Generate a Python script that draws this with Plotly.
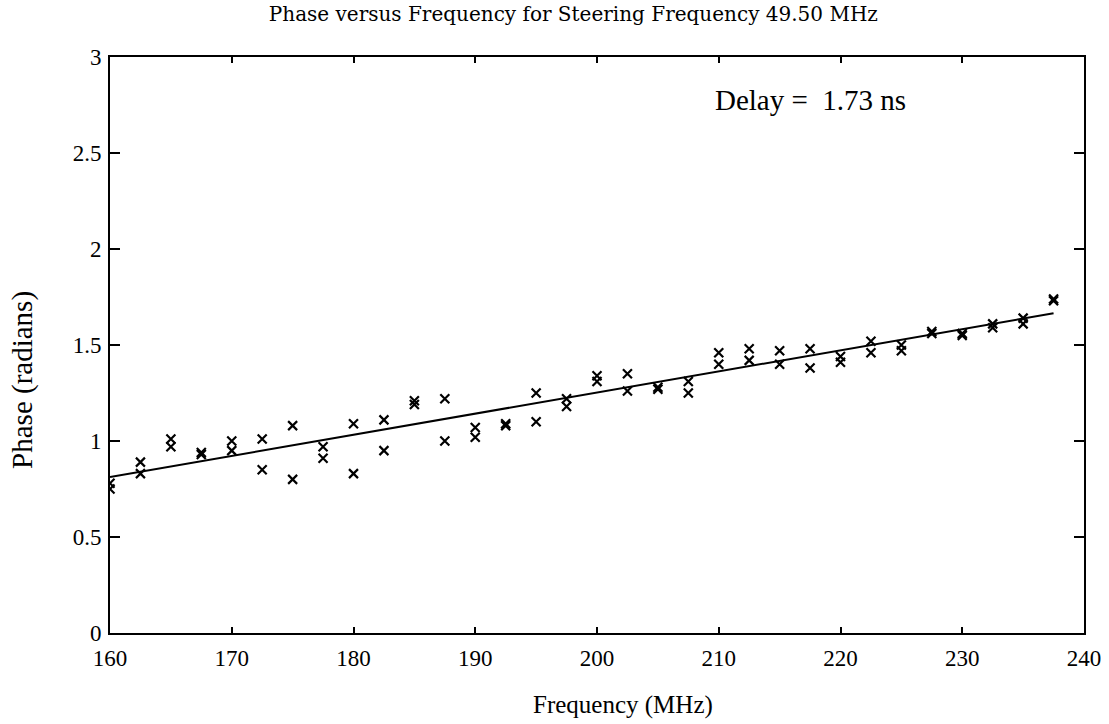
import plotly.graph_objects as go

freq = [160, 162.5, 165, 167.5, 170, 172.5, 175, 177.5, 180, 182.5, 185, 187.5,
        190, 192.5, 195, 197.5, 200, 202.5, 205, 207.5, 210, 212.5, 215, 217.5,
        220, 222.5, 225, 227.5, 230, 232.5, 235, 237.5]
phase_a = [0.78, 0.89, 1.01, 0.94, 1.00, 1.01, 1.08, 0.97, 1.09, 1.11, 1.21, 1.22,
           1.07, 1.09, 1.25, 1.22, 1.34, 1.35, 1.28, 1.31, 1.46, 1.48, 1.47, 1.48,
           1.44, 1.52, 1.50, 1.57, 1.56, 1.61, 1.64, 1.74]
phase_b = [0.75, 0.83, 0.97, 0.93, 0.95, 0.85, 0.80, 0.91, 0.83, 0.95, 1.19, 1.00,
           1.02, 1.08, 1.10, 1.18, 1.31, 1.26, 1.27, 1.25, 1.40, 1.42, 1.40, 1.38,
           1.41, 1.46, 1.47, 1.56, 1.55, 1.59, 1.61, 1.73]
fit_freq = [160, 237.5]
fit_phase = [0.8125, 1.665]

x_ticks = [160, 170, 180, 190, 200, 210, 220, 230, 240]
y_ticks = [0, 0.5, 1, 1.5, 2, 2.5, 3]
y_tick_labels = ["0", "0.5", "1", "1.5", "2", "2.5", "3"]

serif = "Liberation Serif, Times New Roman, serif"
wide_serif = "DejaVu Serif, serif"

fig = go.Figure()
fig.add_trace(go.Scatter(x=fit_freq, y=fit_phase, mode="lines",
                         line=dict(color="black", width=2), showlegend=False))
for ph in (phase_a, phase_b):
    fig.add_trace(go.Scatter(x=freq, y=ph, mode="markers",
                             marker=dict(symbol="x-thin", size=9, color="black",
                                         line=dict(color="black", width=2.2)),
                             showlegend=False))

fig.add_annotation(x=217.5, y=2.776, text="Delay =  1.73 ns", showarrow=False,
                   xanchor="center", yanchor="middle",
                   font=dict(family=serif, size=29, color="black"))
fig.add_annotation(xref="paper", yref="paper", x=0.527, y=-0.125,
                   text="Frequency (MHz)", showarrow=False,
                   xanchor="center", yanchor="middle",
                   font=dict(family=serif, size=25, color="black"))
fig.add_annotation(xref="paper", yref="paper", x=-0.09, y=0.44,
                   text="Phase (radians)", showarrow=False, textangle=-90,
                   xanchor="center", yanchor="middle",
                   font=dict(family=serif, size=29, color="black"))

axis_common = dict(showgrid=False, zeroline=False, showline=True, linecolor="black",
                   linewidth=1.8, mirror="allticks", ticks="inside",
                   tickcolor="black", tickwidth=1.5,
                   tickfont=dict(family=serif, size=23, color="black"))

fig.update_layout(
    width=1109, height=724,
    paper_bgcolor="white", plot_bgcolor="white",
    margin=dict(l=110, r=25, t=57, b=91, autoexpand=False),
    title=dict(text="Phase versus Frequency for Steering Frequency 49.50 MHz",
               xref="container", yref="container",
               x=0.517, xanchor="center", y=0.981, yanchor="middle",
               font=dict(family=wide_serif, size=20, color="black")),
    xaxis=dict(range=[160, 240], tickvals=x_ticks, ticklen=6, ticklabelstandoff=3,
               **axis_common),
    yaxis=dict(range=[0, 3], tickvals=y_ticks, ticktext=y_tick_labels, ticklen=10,
               ticklabelstandoff=2, **axis_common),
)

fig.write_html("out.html", config={"displayModeBar": False},
               post_script="document.body.style.margin='0px';")
